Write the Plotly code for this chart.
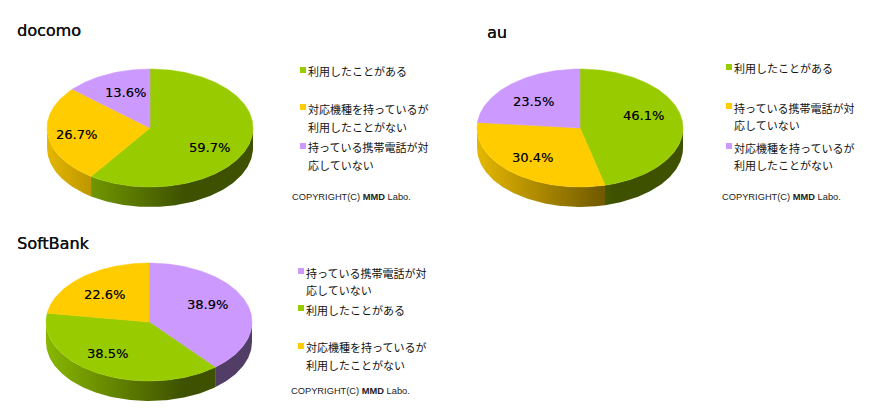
import numpy as np
import plotly.graph_objects as go

# colours of the three answers
GREEN = (153, 204, 0)
YELLOW = (255, 204, 0)
PURPLE = (204, 153, 255)

# values, clockwise from 12 o'clock
docomo_values = [59.7, 26.7, 13.6]
docomo_colors = [GREEN, YELLOW, PURPLE]
docomo_legend = ["利用したことがある", "対応機種を持っているが\n利用したことがない", "持っている携帯電話が対\n応していない"]

au_values = [46.1, 30.4, 23.5]
au_colors = [GREEN, YELLOW, PURPLE]
au_legend = ["利用したことがある", "持っている携帯電話が対\n応していない", "対応機種を持っているが\n利用したことがない"]

softbank_values = [38.9, 38.5, 22.6]
softbank_colors = [PURPLE, GREEN, YELLOW]
softbank_legend = ["持っている携帯電話が対\n応していない", "利用したことがある", "対応機種を持っているが\n利用したことがない"]

# layout of each block, in page pixels
charts = [
    dict(title="docomo", title_pos=(15, 30), center=(150, 128), values=docomo_values, colors=docomo_colors,
         legend=docomo_legend, legend_x=300, box_y=[70, 107, 146], line_y=[[71], [109, 127], [147, 165]],
         label_pos=[(209.5, 147), (76.5, 134), (125, 92)], copy_pos=(290, 197)),
    dict(title="au", title_pos=(485, 32), center=(580, 128), values=au_values, colors=au_colors,
         legend=au_legend, legend_x=726, box_y=[67, 106, 146], line_y=[[68], [108, 125], [148, 165]],
         label_pos=[(643, 115), (532, 157), (533, 101)], copy_pos=(720, 197)),
    dict(title="SoftBank", title_pos=(15, 243), center=(149, 322), values=softbank_values, colors=softbank_colors,
         legend=softbank_legend, legend_x=298, box_y=[271, 308, 346], line_y=[[273, 290], [310], [347, 365]],
         label_pos=[(207, 304), (107, 353), (104, 294)], copy_pos=(289, 391)),
]

RX = 103
RY = 59
DEPTH = 20
JP_FONT = "Noto Sans CJK JP"
SANS = "DejaVu Sans"
THICK = "0.3px 0 0 #000000"
THIN = "0.2px 0 0 rgba(0,0,0,0.5)"


def rgb(c, k=1.0):
    return "rgb(%d,%d,%d)" % (c[0] * k, c[1] * k, c[2] * k)


def ellipse(cx, cy, a, b):
    t = np.radians(np.linspace(a, b, max(int(abs(b - a)), 2) + 1))
    return cx + RX * np.sin(t), cy - RY * np.cos(t)


fig = go.Figure()
annotations = []

for chart in charts:
    cx, cy = chart["center"]
    ends = np.cumsum(chart["values"]) / sum(chart["values"]) * 360
    starts = np.concatenate([[0], ends[:-1]])

    # side wall: only the front half of the rim is seen
    for a, b, col in zip(starts, ends, chart["colors"]):
        a2, b2 = max(a, 90), min(b, 270)
        if a2 >= b2:
            continue
        x, y = ellipse(cx, cy, a2, b2)
        xs = np.concatenate([x, x[::-1]])
        ys = np.concatenate([y, y[::-1] + DEPTH])
        fig.add_trace(go.Scatter(
            x=xs, y=ys, mode="lines", fill="toself", line=dict(width=0),
            fillgradient=dict(type="horizontal", start=cx - RX, stop=cx + 35,
                              colorscale=[[0, rgb(col, 0.9)], [1, rgb(col, 0.4)]]),
            hoverinfo="skip", showlegend=False))

    # top face
    for a, b, col in zip(starts, ends, chart["colors"]):
        x, y = ellipse(cx, cy, a, b)
        fig.add_trace(go.Scatter(
            x=np.concatenate([[cx], x, [cx]]), y=np.concatenate([[cy], y, [cy]]),
            mode="lines", fill="toself", fillcolor=rgb(col),
            line=dict(width=0.5, color=rgb(col)), hoverinfo="skip", showlegend=False))

    # percent labels
    for val, pos in zip(chart["values"], chart["label_pos"]):
        annotations.append(dict(x=pos[0], y=pos[1], text="%.1f%%" % val, showarrow=False,
                                font=dict(family=SANS, size=13, color="#000000", shadow=THIN)))

    # legend boxes and text
    fig.add_trace(go.Scatter(
        x=[chart["legend_x"] + 3] * 3, y=chart["box_y"], mode="markers",
        marker=dict(symbol="square", size=6, color=[rgb(c) for c in chart["colors"]]),
        hoverinfo="skip", showlegend=False))
    for label, ys in zip(chart["legend"], chart["line_y"]):
        for line, yy in zip(label.split("\n"), ys):
            annotations.append(dict(x=chart["legend_x"] + 6, y=yy, text=line, showarrow=False, xanchor="left",
                                    font=dict(family=JP_FONT, size=11, color="#111111")))

    annotations.append(dict(x=chart["title_pos"][0], y=chart["title_pos"][1], text=chart["title"], showarrow=False,
                            xanchor="left", font=dict(family=SANS, size=16, color="#111111", shadow=THICK)))
    annotations.append(dict(x=chart["copy_pos"][0], y=chart["copy_pos"][1], text="COPYRIGHT(C) <b>MMD</b> Labo.",
                            showarrow=False, xanchor="left",
                            font=dict(family="Liberation Sans", size=9.3, color="#222222")))

fig.update_layout(
    width=870, height=420, margin=dict(l=0, r=0, t=0, b=0),
    paper_bgcolor="white", plot_bgcolor="white", annotations=annotations, showlegend=False,
    xaxis=dict(range=[0, 870], visible=False, fixedrange=True),
    yaxis=dict(range=[420, 0], visible=False, fixedrange=True),
)

fig.write_html("out.html", config={"displayModeBar": False},
               post_script="document.body.style.margin='0';")
